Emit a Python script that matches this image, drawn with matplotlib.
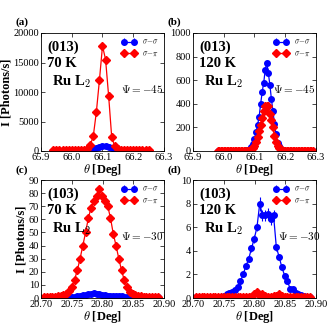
import matplotlib
matplotlib.use("Agg")
import matplotlib.pyplot as plt

plt.rcParams['font.family'] = ['Liberation Serif', 'DejaVu Serif']
plt.rcParams['mathtext.fontset'] = 'cm'

# ---------------- Panel (a): (013) 70 K ----------------
A_X = [65.94, 65.95, 65.96, 65.97, 65.98, 65.99, 66.00, 66.01, 66.02, 66.03,
       66.04, 66.05, 66.06, 66.07, 66.08, 66.09, 66.10, 66.11, 66.12, 66.13,
       66.14, 66.15, 66.16, 66.17, 66.18, 66.19, 66.20, 66.21, 66.22, 66.23,
       66.24, 66.25]
A_SS = [20, 20, 20, 20, 20, 20, 20, 20, 20, 20,
        40, 80, 150, 280, 480, 650, 800, 850, 700, 450,
        250, 110, 60, 30, 20, 20, 20, 20, 20, 20,
        20, 20]
A_SP = [100, 100, 100, 100, 100, 110, 110, 120, 130, 150,
        200, 400, 1000, 2500, 6600, 12000, 17800, 15500, 9300, 2300,
        800, 400, 250, 170, 140, 120, 110, 100, 100, 100,
        100, 100]

# ---------------- Panel (b): (013) 120 K ----------------
B_X = [65.980, 65.985, 65.990, 65.995, 66.000, 66.005, 66.010, 66.015, 66.020, 66.025,
       66.030, 66.035, 66.040, 66.045, 66.050, 66.055, 66.060, 66.065, 66.070, 66.075,
       66.080, 66.085, 66.090, 66.095, 66.100, 66.105, 66.110, 66.115, 66.120, 66.125,
       66.130, 66.135, 66.140, 66.145, 66.150, 66.155, 66.160, 66.165, 66.170, 66.175,
       66.180, 66.185, 66.190, 66.195, 66.200, 66.205, 66.210, 66.215, 66.220, 66.225,
       66.230, 66.235, 66.240, 66.245, 66.250, 66.255, 66.260, 66.265, 66.270, 66.275,
       66.280, 66.285, 66.290]
B_SS = [3, 3, 3, 3, 3, 3, 3, 3, 3, 3,
        3, 3, 3, 3, 3, 3, 3, 3, 3, 5,
        8, 15, 30, 60, 100, 160, 220, 290, 400, 500,
        580, 690, 750, 660, 560, 440, 340, 230, 140, 70,
        40, 20, 10, 6, 3, 3, 3, 3, 3, 3,
        3, 3, 3, 3, 3, 3, 3, 3, 3, 3,
        3, 3, 3]
B_SP = [3, 3, 3, 3, 3, 3, 3, 3, 3, 3,
        3, 3, 3, 3, 3, 3, 3, 3, 3, 3,
        3, 6, 12, 25, 45, 80, 120, 170, 220, 280,
        340, 380, 385, 380, 310, 260, 200, 130, 80, 45,
        25, 12, 6, 3, 3, 3, 3, 3, 3, 3,
        3, 3, 3, 3, 3, 3, 3, 3, 3, 3,
        3, 3, 3]

# ---------------- Panels (c), (d): (103) ----------------
CD_X = [20.7050, 20.7095, 20.7140, 20.7185, 20.7230, 20.7275, 20.7320, 20.7365,
        20.7410, 20.7455, 20.7500, 20.7545, 20.7590, 20.7635, 20.7680, 20.7725,
        20.7770, 20.7815, 20.7860, 20.7905, 20.7950, 20.7995, 20.8040, 20.8085,
        20.8130, 20.8175, 20.8220, 20.8265, 20.8310, 20.8355, 20.8400, 20.8445,
        20.8490, 20.8535, 20.8580, 20.8625, 20.8670, 20.8715, 20.8760, 20.8805,
        20.8850, 20.8895]
C_SS = [0.3, 0.3, 0.3, 0.3, 0.3, 0.3, 0.3, 0.3,
        0.3, 0.5, 0.8, 1.0, 1.3, 1.6, 2.0, 2.5,
        3.0, 3.4, 3.5, 3.3, 3.0, 2.6, 2.2, 1.9,
        1.6, 1.5, 1.4, 1.3, 1.2, 1.0, 0.8, 0.6,
        0.4, 0.4, 0.4, 0.4, 0.4, 0.4, 0.4, 0.4,
        0.4, 0.4]
C_SP = [0.5, 0.6, 0.7, 0.8, 1.0, 1.2, 1.5, 2.0,
        3.0, 5.0, 8.5, 14, 21, 30, 40, 50,
        61, 69, 74, 78, 83, 78, 74, 70,
        61, 49, 40, 30, 21, 13.5, 8.5, 4.8,
        3.0, 2.0, 1.5, 1.2, 1.0, 0.8, 0.7, 0.6,
        0.5, 0.5]
D_SS = [0.1, 0.1, 0.1, 0.1, 0.1, 0.1, 0.1, 0.1,
        0.1, 0.1, 0.2, 0.3, 0.4, 0.5, 0.7, 0.9,
        1.4, 2.0, 2.7, 3.3, 4.2, 5.0, 6.0, 8.0,
        7.0, 7.0, 7.1, 6.7, 7.0, 4.3, 3.5, 2.6,
        1.9, 1.4, 0.8, 0.75, 0.45, 0.35, 0.25, 0.15,
        0.1, 0.05]
D_SS_ERR = [0.05, 0.05, 0.05, 0.05, 0.05, 0.05, 0.05, 0.05,
            0.05, 0.05, 0.1, 0.1, 0.1, 0.1, 0.15, 0.15,
            0.2, 0.2, 0.25, 0.25, 0.3, 0.3, 0.35, 0.6,
            0.5, 0.5, 0.5, 0.5, 0.5, 0.3, 0.25, 0.2,
            0.2, 0.15, 0.1, 0.1, 0.1, 0.1, 0.05, 0.05,
            0.05, 0.05]
D_SP = [0.1, 0.1, 0.1, 0.1, 0.1, 0.1, 0.1, 0.1,
        0.1, 0.1, 0.1, 0.1, 0.1, 0.1, 0.1, 0.1,
        0.1, 0.1, 0.1, 0.1, 0.1, 0.3, 0.55, 0.2,
        0.35, 0.15, 0.1, 0.1, 0.2, 0.15, 0.35, 0.2,
        0.1, 0.1, 0.1, 0.1, 0.1, 0.1, 0.1, 0.1,
        0.1, 0.1]

PANELS = [
    dict(x=A_X, ss=A_SS, sp=A_SP, ss_err=150, sp_err=150, xlim=(65.9, 66.3),
         xticks=[65.9, 66.0, 66.1, 66.2, 66.3], xfmt='%.1f',
         ylim=(0, 20000), yticks=[0, 5000, 10000, 15000, 20000],
         refl='(013)', temp='70 K', psi=r'$\Psi = -45$', lab='(a)', ylabel=True),
    dict(x=B_X, ss=B_SS, sp=B_SP, ss_err=12, sp_err=10, xlim=(65.9, 66.3),
         xticks=[65.9, 66.0, 66.1, 66.2, 66.3], xfmt='%.1f',
         ylim=(0, 1000), yticks=[0, 200, 400, 600, 800, 1000],
         refl='(013)', temp='120 K', psi=r'$\Psi = -45$', lab='(b)', ylabel=False),
    dict(x=CD_X, ss=C_SS, sp=C_SP, ss_err=0.3, sp_err=1.5, xlim=(20.70, 20.90),
         xticks=[20.70, 20.75, 20.80, 20.85, 20.90], xfmt='%.2f',
         ylim=(0, 90), yticks=[0, 10, 20, 30, 40, 50, 60, 70, 80, 90],
         refl='(103)', temp='70 K', psi=r'$\Psi = -30$', lab='(c)', ylabel=True),
    dict(x=CD_X, ss=D_SS, sp=D_SP, ss_err=D_SS_ERR, sp_err=0.08, xlim=(20.70, 20.90),
         xticks=[20.70, 20.75, 20.80, 20.85, 20.90], xfmt='%.2f',
         ylim=(0, 10), yticks=[0, 2, 4, 6, 8, 10],
         refl='(103)', temp='120 K', psi=r'$\Psi = -30$', lab='(d)', ylabel=False),
]

W, H = 332.0, 332.0
fig = plt.figure(figsize=(3.32, 3.32), dpi=100)
rects = [(41, 151), (193, 151), (41, 298), (193, 298)]
labpos = [(16, 22), (168, 22), (16, 170), (168, 170)]

for p, (lx, by), (px, py) in zip(PANELS, rects, labpos):
    ax = fig.add_axes([lx / W, 1 - by / H, 123 / W, 118 / H])
    ax.errorbar(p['x'], p['ss'], yerr=p['ss_err'], fmt='-o', color='#0000ff',
                ms=4.0, lw=0.9, elinewidth=0.8, capsize=0, mec='#0000ff',
                label=r'$\sigma\!-\!\sigma$')
    ax.errorbar(p['x'], p['sp'], yerr=p['sp_err'], fmt='-D', color='#ff0000',
                ms=3.8, lw=0.9, elinewidth=0.8, capsize=0, mec='#ff0000',
                label=r'$\sigma\!-\!\pi$')
    ax.set_xlim(*p['xlim'])
    ax.set_ylim(*p['ylim'])
    ax.set_xticks(p['xticks'])
    ax.set_xticklabels([p['xfmt'] % t for t in p['xticks']])
    ax.set_yticks(p['yticks'])
    ax.tick_params(direction='in', top=True, right=True, labelsize=7.5,
                   length=3, width=0.5, pad=1.5)
    for s in ax.spines.values():
        s.set_linewidth(0.6)
    ax.set_xlabel(r'$\theta$ [Deg]', fontsize=9, fontweight='bold', labelpad=0)
    if p['ylabel']:
        ax.set_ylabel('I [Photons/s]', fontsize=9, fontweight='bold', labelpad=0.5)
    ax.legend(loc='upper right', frameon=False, fontsize=5.5, numpoints=2,
              handlelength=1.9, handletextpad=0.8, borderaxespad=0.25,
              labelspacing=0.45)
    ax.text(0.05, 0.88, p['refl'], transform=ax.transAxes, fontsize=10.5,
            fontweight='bold', va='center', ha='left')
    ax.text(0.05, 0.745, p['temp'], transform=ax.transAxes, fontsize=10.5,
            fontweight='bold', va='center', ha='left')
    ax.text(0.09, 0.585, r'Ru L$_2$', transform=ax.transAxes, fontsize=10.5,
            fontweight='bold', va='center', ha='left')
    ax.text(0.65 if p['lab'] != '(d)' else 0.69, 0.525, p['psi'],
            transform=ax.transAxes, fontsize=8, va='center', ha='left')
    fig.text(px / W, 1 - py / H, p['lab'], fontsize=8, fontweight='bold',
             va='center', ha='left')

fig.savefig('out.png', dpi=100)
